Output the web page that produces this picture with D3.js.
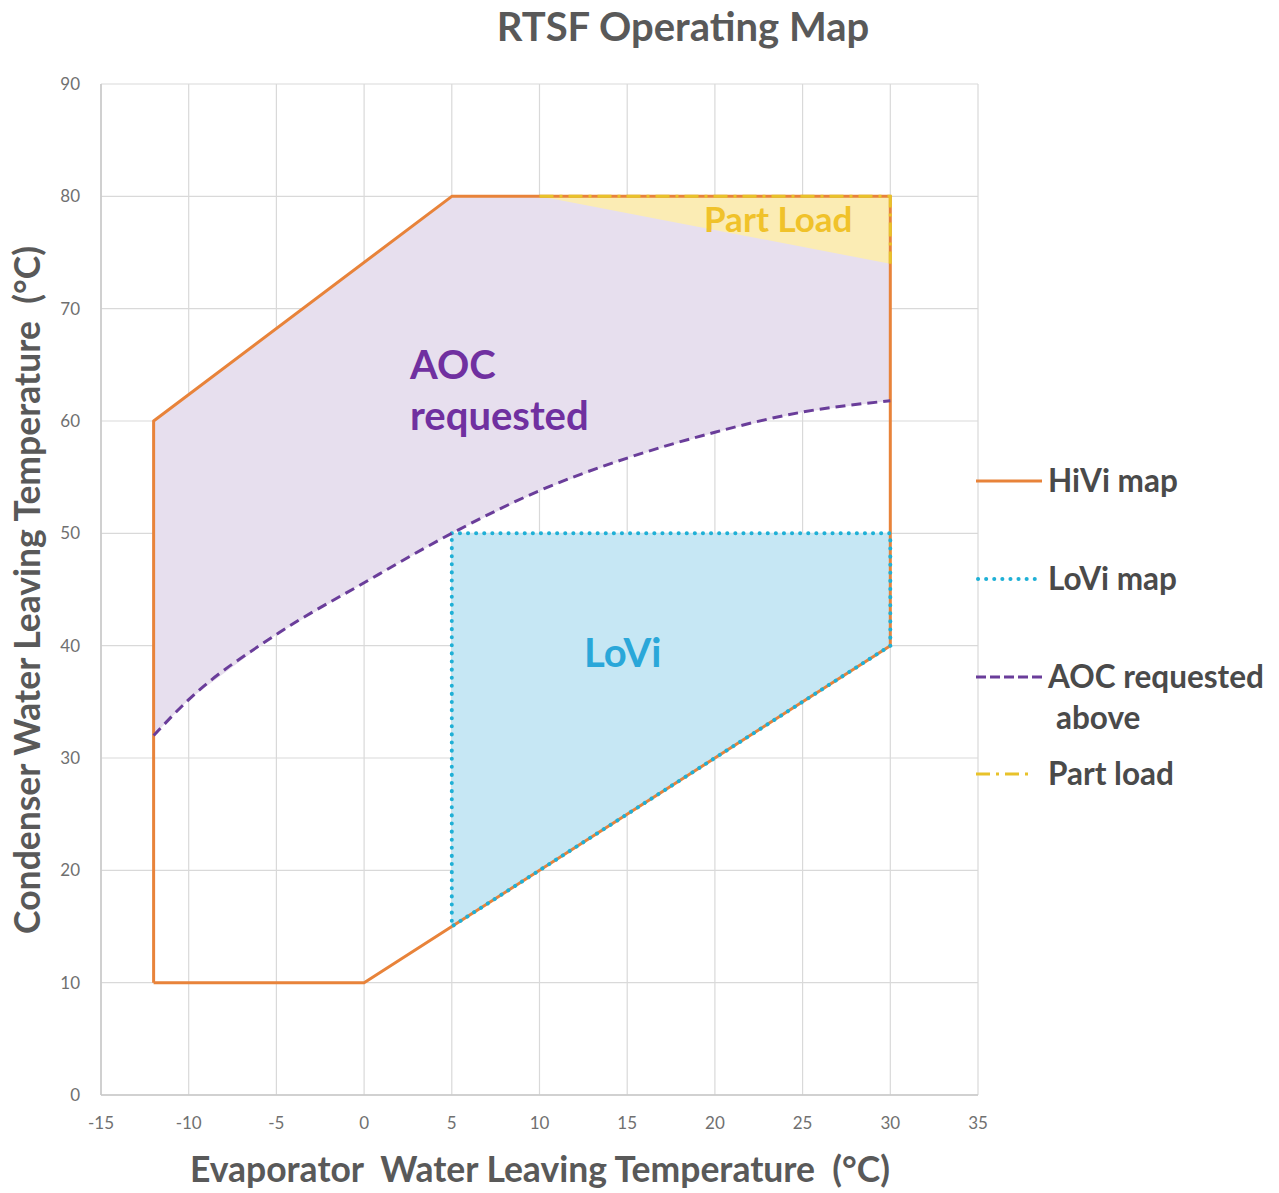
<!DOCTYPE html>
<html><head><meta charset="utf-8">
<script src="https://cdn.jsdelivr.net/npm/d3@7"></script>
<style>body{margin:0;background:#fff}svg{display:block}text{font-family:Lato,"Open Sans",sans-serif}</style>
</head><body><svg id="c" width="1279" height="1193"></svg>
<script>
const xTicks=[-15,-10,-5,0,5,10,15,20,25,30,35];
const yTicks=[0,10,20,30,40,50,60,70,80,90];
const hiviX=[-12,-12,5,30,30,5,0,-12];
const hiviY=[10,60,80,80,40,15,10,10];
const loviX=[5,30,30,5,5];
const loviY=[50,50,40,15,50];
const aocX=[-12,-10,-5,0,5,10,15,20,25,30];
const aocY=[32,35.2,41,45.6,50,53.8,56.7,59,60.8,61.8];
const aocTopX=[30,30,5,-12];
const aocTopY=[62,80,80,60];
const partX=[10,30,30];
const partY=[80,80,74];
const legendLabels=["HiVi map","LoVi map","AOC requested","Part load"];

const svg=d3.select("#c");
const x=d3.scaleLinear().domain([-15,35]).range([101,978]);
const y=d3.scaleLinear().domain([0,90]).range([1095,84]);
const pts=(xs,ys)=>xs.map((v,i)=>[x(v),y(ys[i])]);
const line=d3.line();

// grid
svg.append("g").selectAll("line").data(xTicks).join("line")
 .attr("x1",d=>x(d)).attr("x2",d=>x(d)).attr("y1",y(0)).attr("y2",y(90))
 .attr("stroke","#d9d9d9").attr("stroke-width",1.2);
svg.append("g").selectAll("line").data(yTicks).join("line")
 .attr("y1",d=>y(d)).attr("y2",d=>y(d)).attr("x1",x(-15)).attr("x2",x(35))
 .attr("stroke","#d9d9d9").attr("stroke-width",1.2);
svg.append("line").attr("x1",x(-15)).attr("x2",x(-15)).attr("y1",y(0)).attr("y2",y(90)).attr("stroke","#c8c8c8").attr("stroke-width",1.5);
svg.append("line").attr("x1",x(-15)).attr("x2",x(35)).attr("y1",y(0)).attr("y2",y(0)).attr("stroke","#c8c8c8").attr("stroke-width",1.5);

// tick labels
svg.append("g").selectAll("text").data(xTicks).join("text")
 .attr("x",d=>x(d)).attr("y",1129).attr("text-anchor","middle")
 .attr("font-size",17).attr("fill","#707070").text(d=>d);
svg.append("g").selectAll("text").data(yTicks).join("text")
 .attr("x",80).attr("y",d=>y(d)+6).attr("text-anchor","end")
 .attr("font-size",17).attr("fill","#707070").text(d=>d);

// fills
const aocPoly=pts(aocX,aocY).concat(pts(aocTopX,aocTopY));
svg.append("path").attr("d",line(aocPoly)+"Z").attr("fill","#e7dfee");
svg.append("path").attr("d",line(pts(partX,partY))+"Z").attr("fill","#fbecb4");
svg.append("path").attr("d",line(pts(loviX,loviY))+"Z").attr("fill","#c6e7f4");

// lines
svg.append("path").attr("d",line(pts(hiviX,hiviY))).attr("fill","none")
 .attr("stroke","#e8833a").attr("stroke-width",3).attr("stroke-linejoin","round");
svg.append("path").attr("d",line(pts(loviX,loviY))).attr("fill","none")
 .attr("stroke","#1fb0d6").attr("stroke-width",4).attr("stroke-dasharray","0.1 8").attr("stroke-linecap","round");
svg.append("path").attr("d",d3.line().curve(d3.curveMonotoneX)(pts(aocX,aocY))).attr("fill","none")
 .attr("stroke","#6a3d9a").attr("stroke-width",3).attr("stroke-dasharray","10 6");
svg.append("path").attr("d",line(pts(partX,partY))).attr("fill","none")
 .attr("stroke","#e8c22a").attr("stroke-width",3).attr("stroke-dasharray","14 6 3 6");

// in-plot labels
svg.append("text").attr("x",410).attr("y",379).attr("font-size",40).attr("font-weight","bold").attr("fill","#7030a0").text("AOC");
svg.append("text").attr("x",410).attr("y",430).attr("font-size",40).attr("font-weight","bold").attr("fill","#7030a0").text("requested");
svg.append("text").attr("x",584).attr("y",667).attr("font-size",40).attr("font-weight","bold").attr("fill","#2aa7d9").text("LoVi");
svg.append("text").attr("x",704).attr("y",232).attr("font-size",35).attr("font-weight","bold").attr("fill","#f0c22a").text("Part Load");

// title & axis titles
svg.append("text").attr("x",683).attr("y",41).attr("text-anchor","middle").attr("font-size",40).attr("font-weight","bold").attr("fill","#595959").text("RTSF Operating Map");
svg.append("text").attr("x",540).attr("y",1182).attr("text-anchor","middle").attr("font-size",35.5).attr("font-weight","bold").attr("fill","#595959").style("white-space","pre").text("Evaporator  Water Leaving Temperature  (°C)");
svg.append("text").attr("transform","translate(40,590) rotate(-90)").attr("text-anchor","middle").attr("font-size",35.5).attr("font-weight","bold").attr("fill","#595959").style("white-space","pre").text("Condenser Water Leaving Temperature  (°C)");

// legend
const lg=svg.append("g");
const ly=[481,579,677,774];
lg.append("line").attr("x1",976).attr("x2",1042).attr("y1",ly[0]).attr("y2",ly[0]).attr("stroke","#e8833a").attr("stroke-width",3);
lg.append("line").attr("x1",978).attr("x2",1038).attr("y1",ly[1]).attr("y2",ly[1]).attr("stroke","#1fb0d6").attr("stroke-width",4).attr("stroke-dasharray","0.1 8").attr("stroke-linecap","round");
lg.append("line").attr("x1",976).attr("x2",1044).attr("y1",ly[2]).attr("y2",ly[2]).attr("stroke","#6a3d9a").attr("stroke-width",3).attr("stroke-dasharray","10 4");
lg.append("line").attr("x1",976).attr("x2",1030).attr("y1",ly[3]).attr("y2",ly[3]).attr("stroke","#e8c22a").attr("stroke-width",3).attr("stroke-dasharray","14 6 3 6");
lg.selectAll("text.l").data(legendLabels).join("text").attr("class","l")
 .attr("x",1048).attr("y",(d,i)=>ly[i]+11).attr("font-size",31.5).attr("font-weight","bold").attr("fill","#4a4a4a").text(d=>d);
lg.append("text").attr("x",1056).attr("y",729).attr("font-size",31.5).attr("font-weight","bold").attr("fill","#4a4a4a").text("above");
</script></body></html>
